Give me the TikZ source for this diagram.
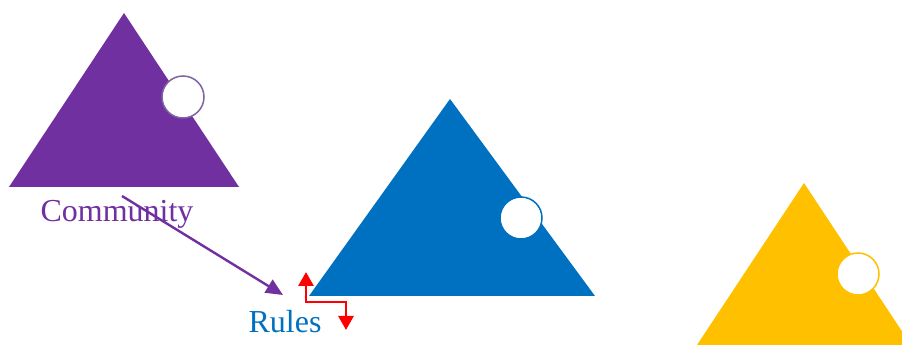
\documentclass[tikz,border=0pt]{standalone}
\usepackage{fontspec}
\setmainfont{Liberation Serif}
\usetikzlibrary{arrows.meta,calc}
\definecolor{comm_color}{RGB}{112,48,160}
\definecolor{comm_ring}{RGB}{128,100,162}
\definecolor{rules_color}{RGB}{0,112,192}
\definecolor{third_color}{RGB}{255,192,0}
\definecolor{link_red}{RGB}{255,0,0}
\tikzset{
  pyramid/.style={draw=none},
  hole/.style={
    circle, fill=white, line width=1.5pt,
    minimum width=40pt, minimum height=42pt, inner sep=0pt
  },
  label_text/.style={font=\fontsize{32}{38}\selectfont, inner sep=0pt},
  commlink/.style={comm_color, line width=2.4pt, -{Triangle[length=17pt,width=15pt]}},
  redlink/.style={link_red, line width=2.8pt,
    {Triangle[length=14pt,width=15pt]}-{Triangle[length=14pt,width=15pt]}}
}

\begin{document}
\begin{tikzpicture}[x=1pt,y=1pt]

\useasboundingbox (0,0) rectangle (902,345);
\clip (0,0) rectangle (902,345);

% pyramids
\fill[pyramid, comm_color] (124,332) -- (239,158) -- (9,158) -- cycle;
\fill[pyramid, rules_color] (450,246) -- (595,49) -- (309,49) -- cycle;
\fill[pyramid, third_color] (804,162) -- (911,0) -- (697,0) -- cycle;

\node[hole, draw=comm_ring] (hole1) at (183,248) {};
\node[hole, draw=rules_color] (hole2) at (521,127) {};
\node[hole, draw=third_color] (hole3) at (858,71) {};

% labels
\node[label_text, text=comm_color] (community) at (117,131) {Community};
\node[label_text, text=rules_color] (rules) at (285,23) {Rules};

\coordinate (comm_start) at ($(community.center) + (5pt,18pt)$);
\coordinate (rules_end) at ($(rules.center) + (-2pt,27pt)$);
\draw[commlink] (comm_start) -- (rules_end);

\coordinate (red_up) at (306,73);
\coordinate (red_down) at (346,15);
\draw[redlink] (red_up) |- ($(red_down) + (0,28pt)$) -- (red_down);

\end{tikzpicture}
\end{document}
